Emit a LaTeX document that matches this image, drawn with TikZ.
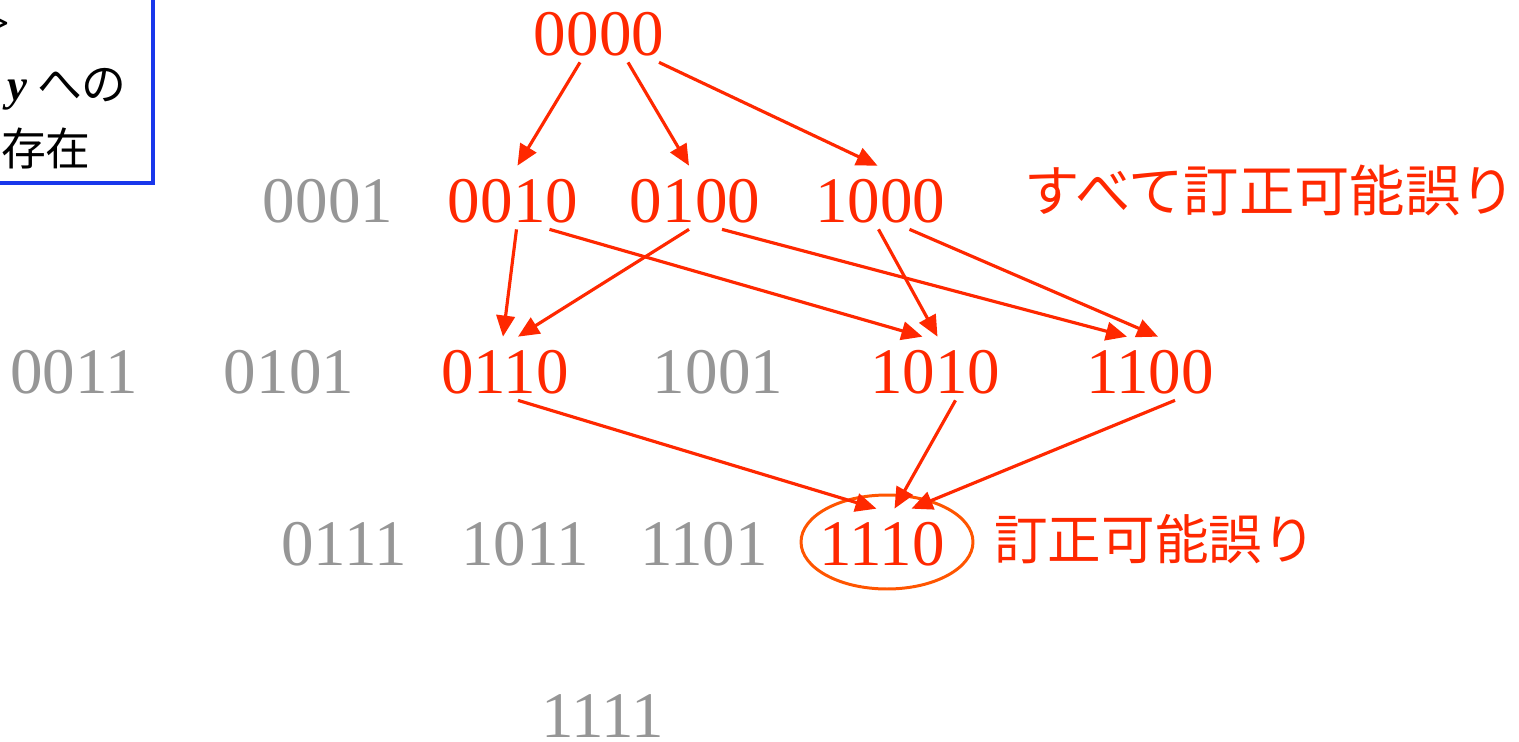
\documentclass[tikz,border=0pt]{standalone}
\usepackage{fontspec}
\setmainfont{Liberation Serif}
\newfontfamily\jpfont{Noto Sans CJK JP}
\usetikzlibrary{arrows.meta,shapes.geometric}

\definecolor{errred}{RGB}{255,40,0}
\definecolor{codegray}{RGB}{150,150,150}
\definecolor{ringorange}{RGB}{255,85,0}
\definecolor{boxblue}{RGB}{25,55,235}

\tikzset{
  word/.style={inner sep=0pt, anchor=base, text height=1.12cm, text depth=0.14cm,
    font=\fontsize{37}{37}\selectfont},
  err/.style={word, text=errred},
  ok/.style={word, text=codegray},
  arr/.style={errred, line width=1.8pt, -{Triangle[length=12pt,width=10.5pt]}},
  note/.style={inner sep=0pt, text=errred, font=\jpfont\fontsize{30.5}{30.5}\selectfont},
  boxtext/.style={inner sep=0pt, anchor=base east, font=\jpfont\fontsize{25.5}{25.5}\selectfont},
}

\begin{document}
\begin{tikzpicture}[x=0.02cm, y=-0.02cm]
\clip (0,0) rectangle (1519,741);

% note box in the corner
\draw[boxblue, line width=2pt] (-40,-40) rectangle (153,183);
\node[boxtext] (l1) at (10,38) {\rmfamily\bfseries >};
\node[boxtext] (l2) at (127,100) {{\rmfamily\bfseries\itshape y} への};
\node[boxtext] (l3) at (91,165) {存在};

% weight 0
\node[err] (n0000) at (599,55) {0000};
% weight 1
\node[ok] (n0001) at (328,222) {0001};
\node[err] (n0010) at (513,222) {0010};
\node[err] (n0100) at (695,222) {0100};
\node[err] (n1000) at (880,222) {1000};
% weight 2
\node[ok] (n0011) at (74,393) {0011};
\node[ok] (n0101) at (289,393) {0101};
\node[err] (n0110) at (505,393) {0110};
\node[ok] (n1001) at (718,393) {1001};
\node[err] (n1010) at (935,393) {1010};
\node[err] (n1100) at (1150,393) {1100};
% weight 3
\node[ok] (n0111) at (344,565) {0111};
\node[ok] (n1011) at (525,565) {1011};
\node[ok] (n1101) at (704,565) {1101};
\node[err] (n1110) at (882,565) {1110};
% weight 4
\node[ok, text depth=0pt] (n1111) at (603,737) {1111};

\node[draw=ringorange, line width=1.7pt, ellipse, minimum width=3.44cm, minimum height=1.88cm] (ring) at (887,542) {};

\node[note, font=\jpfont\fontsize{31.5}{31.5}\selectfont] (allfix) at (1270,190) {すべて訂正可能誤り};
\node[note] (fix) at (1155,539) {訂正可能誤り};

\draw[arr] ([xshift=-0.38cm]n0000.south) -- ([xshift=0.09cm]n0010.north);
\draw[arr] ([xshift=0.58cm]n0000.south) -- ([xshift=-0.12cm]n0100.north);
\draw[arr] ([xshift=1.2cm]n0000.south) -- ([xshift=-0.05cm]n1000.north);
\draw[arr] ([xshift=0.07cm]n0010.south) -- ([xshift=-0.04cm]n0110.north);
\draw[arr] ([xshift=0.73cm]n0010.south) -- ([xshift=-0.25cm]n1010.north);
\draw[arr] ([xshift=-0.12cm]n0100.south) -- ([xshift=0.26cm]n0110.north);
\draw[arr] ([xshift=0.54cm]n0100.south) -- ([xshift=-0.46cm]n1100.north);
\draw[arr] ([xshift=-0.03cm]n1000.south) -- ([xshift=0.05cm]n1010.north);
\draw[arr] ([xshift=0.59cm]n1000.south) -- ([xshift=0.16cm]n1100.north);
\draw[arr] ([xshift=0.26cm]n0110.south) -- ([xshift=-0.11cm]n1110.north);
\draw[arr] ([xshift=0.41cm]n1010.south) -- ([xshift=0.25cm]n1110.north);
\draw[arr] ([xshift=0.5cm]n1100.south) -- ([xshift=0.59cm]n1110.north);

\end{tikzpicture}
\end{document}
